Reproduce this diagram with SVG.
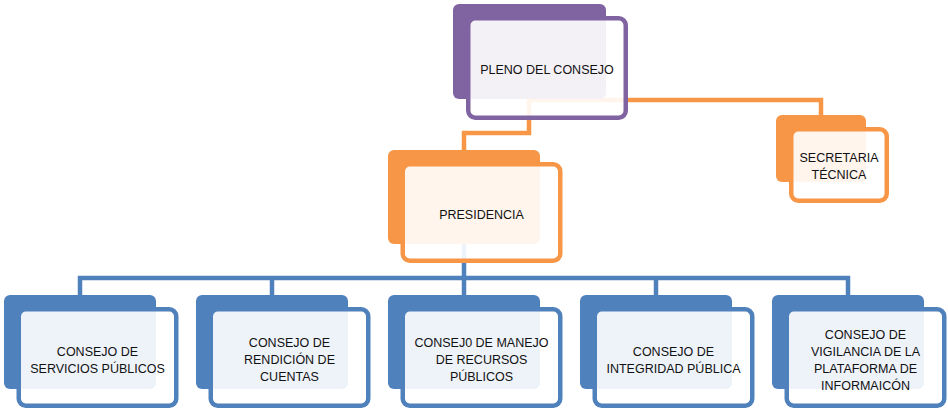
<svg xmlns="http://www.w3.org/2000/svg" width="948" height="410" viewBox="0 0 948 410">
<style>
.bk{stroke:none}
.fr{fill:#ffffff;fill-opacity:0.9;stroke-width:4.5}
.p .bk{fill:#8064a2}.p .fr{stroke:#8064a2}
.o .bk{fill:#f79646}.o .fr{stroke:#f79646}
.b .bk{fill:#4f81bd}.b .fr{stroke:#4f81bd}
.cn{fill:none;stroke-width:4.5;stroke-linejoin:miter;stroke-linecap:butt}
text{font-family:"Liberation Sans",Arial,sans-serif;font-size:12.5px;fill:#111;text-anchor:middle}
</style>
<rect width="948" height="410" fill="#ffffff"/>
<g id="connectors">
<path class="cn" stroke="#f79646" d="M464,150 V133 H529 V99"/>
<path class="cn" stroke="#f79646" d="M529,100 H821 V115"/>
<path class="cn" stroke="#4f81bd" d="M464,244 V295"/>
<path class="cn" stroke="#4f81bd" d="M80,295 V278 H848 V295"/>
<path class="cn" stroke="#4f81bd" d="M272,278 V295 M656,278 V295"/>
</g>
<g id="pleno" class="p">
<rect class="bk" x="453" y="4" width="153" height="95" rx="6"/>
<rect class="fr" x="468.25" y="18.25" width="157.5" height="99.5" rx="7"/>
<text x="547" y="74">PLENO DEL CONSEJO</text>
</g>
<g id="secretaria" class="o">
<rect class="bk" x="776" y="115" width="90" height="67" rx="6"/>
<rect class="fr" x="791.25" y="129.25" width="95.5" height="71.5" rx="7"/>
<text x="839" y="161.5">SECRETARIA</text>
<text x="839" y="178.5">TÉCNICA</text>
</g>
<g id="presidencia" class="o">
<rect class="bk" x="388" y="150" width="152" height="94" rx="6"/>
<rect class="fr" x="402.75" y="164.25" width="157.5" height="96.5" rx="7"/>
<text x="481.5" y="218.5">PRESIDENCIA</text>
</g>
<g id="servicios" class="b">
<rect class="bk" x="4" y="295" width="152" height="94" rx="6"/>
<rect class="fr" x="18.75" y="309.25" width="157.5" height="96.5" rx="7"/>
<text x="97.5" y="355.5">CONSEJO DE</text>
<text x="97.5" y="372.5">SERVICIOS PÚBLICOS</text>
</g>
<g id="rendicion" class="b">
<rect class="bk" x="196" y="295" width="152" height="94" rx="6"/>
<rect class="fr" x="210.75" y="309.25" width="157.5" height="96.5" rx="7"/>
<text x="289.5" y="347">CONSEJO DE</text>
<text x="289.5" y="364">RENDICIÓN DE</text>
<text x="289.5" y="381">CUENTAS</text>
</g>
<g id="recursos" class="b">
<rect class="bk" x="388" y="295" width="152" height="94" rx="6"/>
<rect class="fr" x="402.75" y="309.25" width="157.5" height="96.5" rx="7"/>
<text x="481.5" y="347">CONSEJ0 DE MANEJO</text>
<text x="481.5" y="364">DE RECURSOS</text>
<text x="481.5" y="381">PÚBLICOS</text>
</g>
<g id="integridad" class="b">
<rect class="bk" x="580" y="295" width="152" height="94" rx="6"/>
<rect class="fr" x="594.75" y="309.25" width="157.5" height="96.5" rx="7"/>
<text x="673.5" y="355.5">CONSEJO DE</text>
<text x="673.5" y="372.5">INTEGRIDAD PÚBLICA</text>
</g>
<g id="vigilancia" class="b">
<rect class="bk" x="772" y="295" width="152" height="94" rx="6"/>
<rect class="fr" x="786.75" y="309.25" width="157.5" height="96.5" rx="7"/>
<text x="865.5" y="338.5">CONSEJO DE</text>
<text x="865.5" y="355.5">VIGILANCIA DE LA</text>
<text x="865.5" y="372.5">PLATAFORMA DE</text>
<text x="865.5" y="389.5">INFORMAICÓN</text>
</g>
</svg>
